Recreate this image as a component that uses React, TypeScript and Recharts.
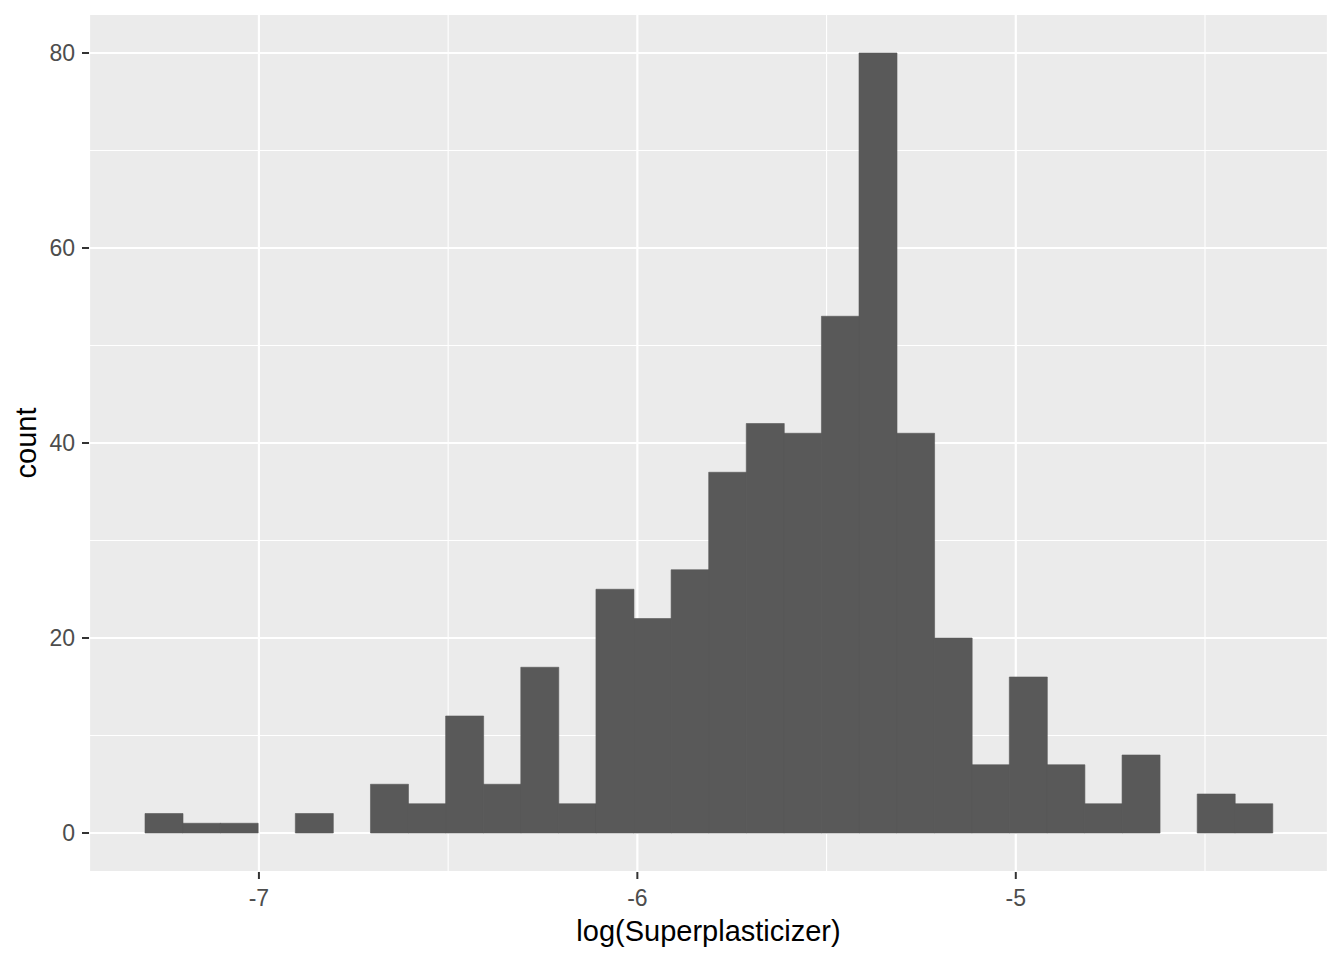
import { Bar, BarChart, CartesianGrid, XAxis, YAxis } from 'recharts'

// histogram bins of log(Superplasticizer)
const binStart = -7.301
const binWidth = 0.0993
const counts = [2, 1, 1, 0, 2, 0, 5, 3, 12, 5, 17, 3, 25, 22, 27, 37, 42, 41, 53, 80, 41, 20, 7, 16, 7, 3, 8, 0, 4, 3]

const xTicks = [-7, -6, -5]
const xMinor = [-6.5, -5.5, -4.5]
const yTicks = [0, 20, 40, 60, 80]
const yMinor = [10, 30, 50, 70]

const X_DOMAIN: [number, number] = [-7.449, -4.175]
const Y_DOMAIN: [number, number] = [-4, 84]

const FONT = '"Liberation Sans", Arial, sans-serif'
const PANEL = '#EBEBEB'
const BAR = '#595959'

const data = counts.map((c, i) => ({ mid: binStart + binWidth * (i + 0.5), count: c }))

const tickStyle = { fontSize: 23, fill: '#4D4D4D', fontFamily: FONT }

// minor grid positions, mapped through the same linear domains the axes use
const minorX = ({ offset }: any) =>
  xMinor.map((v) => offset.left + ((v - X_DOMAIN[0]) / (X_DOMAIN[1] - X_DOMAIN[0])) * offset.width)
const minorY = ({ offset }: any) =>
  yMinor.map((v) => offset.top + ((Y_DOMAIN[1] - v) / (Y_DOMAIN[1] - Y_DOMAIN[0])) * offset.height)

export default function App() {
  return (
    <div style={{ position: 'absolute', left: 0, top: 0, width: 1344, height: 960, background: '#fff' }}>
      <BarChart
        width={1344}
        height={960}
        data={data}
        barCategoryGap={0}
        barGap={0}
        margin={{ top: 14, right: 16, bottom: 0, left: 0 }}
      >
        <CartesianGrid
          fill={PANEL}
          stroke="#fff"
          strokeWidth={1.1}
          horizontalCoordinatesGenerator={minorY}
          verticalCoordinatesGenerator={minorX}
        />
        <CartesianGrid stroke="#fff" strokeWidth={2.2} />
        <XAxis
          dataKey="mid"
          type="number"
          domain={X_DOMAIN}
          allowDataOverflow
          ticks={xTicks}
          height={88}
          tickSize={7}
          tickMargin={11}
          tick={tickStyle}
          axisLine={false}
          tickLine={{ stroke: '#333333', strokeWidth: 2 }}
          label={({ viewBox }: any) => (
            <text
              x={viewBox.x + viewBox.width / 2}
              y={941}
              textAnchor="middle"
              fontSize={29}
              fontFamily={FONT}
              fill="#000"
            >
              log(Superplasticizer)
            </text>
          )}
        />
        <YAxis
          type="number"
          domain={Y_DOMAIN}
          allowDataOverflow
          ticks={yTicks}
          width={89}
          tickSize={7}
          tickMargin={7}
          tick={tickStyle}
          axisLine={false}
          tickLine={{ stroke: '#333333', strokeWidth: 2 }}
          label={({ viewBox }: any) => (
            <text
              x={36}
              y={viewBox.y + viewBox.height / 2}
              transform={`rotate(-90, 36, ${viewBox.y + viewBox.height / 2})`}
              textAnchor="middle"
              fontSize={29}
              fontFamily={FONT}
              fill="#000"
            >
              count
            </text>
          )}
        />
        <Bar dataKey="count" fill={BAR} stroke={BAR} strokeWidth={0.6} isAnimationActive={false} />
      </BarChart>
    </div>
  )
}
